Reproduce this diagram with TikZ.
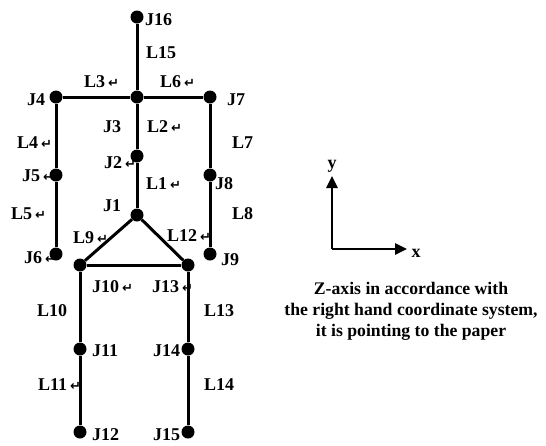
\documentclass[tikz,border=0pt]{standalone}
\usepackage{fontspec}
\setmainfont{Liberation Serif}
\newfontfamily\retfont{DejaVu Sans}
\usetikzlibrary{arrows.meta}

% small return mark after some labels
\newcommand{\retmark}{\,{\retfont\bfseries\fontsize{13}{13}\selectfont ↵}}

\tikzset{
  joint/.style={circle, fill=black, inner sep=0pt, minimum size=13pt},
  bone/.style={line width=3pt},
  lbl/.style={anchor=west, inner sep=0pt, text height=12pt, text depth=0pt,
    font=\fontsize{18}{18}\selectfont\bfseries}
}

\begin{document}
\begin{tikzpicture}[x=1pt, y=-1pt]
\useasboundingbox (0,0) rectangle (546,445);

% joints
\node[joint] (j16) at (137,17) {};
\node[joint] (j3) at (137,97) {};
\node[joint] (j4) at (56,97) {};
\node[joint] (j7) at (210,97) {};
\node[joint] (j2) at (137,156) {};
\node[joint] (j5) at (56,175) {};
\node[joint] (j8) at (210,175) {};
\node[joint] (j1) at (137,215) {};
\node[joint] (j6) at (56,254) {};
\node[joint] (j9) at (210,254) {};
\node[joint] (j10) at (80,265) {};
\node[joint] (j13) at (188,265) {};
\node[joint] (j11) at (80,349) {};
\node[joint] (j14) at (188,349) {};
\node[joint] (j12) at (80,432) {};
\node[joint] (j15) at (188,432) {};

% links
\draw[bone] (j16) -- (j3);
\draw[bone] (j4) -- (j3) -- (j7);
\draw[bone] (j3) -- (j2) -- (j1);
\draw[bone] (j4) -- (j5) -- (j6);
\draw[bone] (j7) -- (j8) -- (j9);
\draw[bone] (j10) -- (j1) -- (j13);
\draw[bone] (j10) -- (j13);
\draw[bone] (j10) -- (j11) -- (j12);
\draw[bone] (j13) -- (j14) -- (j15);

% joint names
\node[lbl] (tj16) at (145,19) {J16};
\node[lbl] (tj4) at (27,99) {J4};
\node[lbl] (tj7) at (227,99) {J7};
\node[lbl] (tj3) at (103,126) {J3};
\node[lbl] (tj2) at (104,162) {J2\retmark};
\node[lbl] (tj5) at (22,175) {J5\retmark};
\node[lbl] (tj8) at (215,183) {J8};
\node[lbl] (tj1) at (103,205) {J1};
\node[lbl] (tj6) at (24,257) {J6\retmark};
\node[lbl] (tj9) at (221,259) {J9};
\node[lbl] (tj10) at (92,286) {J10\retmark};
\node[lbl] (tj13) at (152,286) {J13\retmark};
\node[lbl] (tj11) at (92,350) {J11};
\node[lbl] (tj14) at (153,350) {J14};
\node[lbl] (tj12) at (92,434) {J12};
\node[lbl] (tj15) at (153,434) {J15};

% link names
\node[lbl] (tl15) at (146,52) {L15};
\node[lbl] (tl3) at (84,81) {L3\retmark};
\node[lbl] (tl6) at (160,81) {L6\retmark};
\node[lbl] (tl2) at (147,126) {L2\retmark};
\node[lbl] (tl4) at (17,142) {L4\retmark};
\node[lbl] (tl7) at (232,142) {L7};
\node[lbl] (tl1) at (146,183) {L1\retmark};
\node[lbl] (tl5) at (11,213) {L5\retmark};
\node[lbl] (tl8) at (232,213) {L8};
\node[lbl] (tl9) at (73,237) {L9\retmark};
\node[lbl] (tl12) at (167,235) {L12\retmark};
\node[lbl] (tl10) at (37,310) {L10};
\node[lbl] (tl13) at (204,310) {L13};
\node[lbl] (tl11) at (38,384) {L11\retmark};
\node[lbl] (tl14) at (204,384) {L14};

% axes
\coordinate (o) at (332,249);
\coordinate (ytip) at (332,176);
\coordinate (xtip) at (407,249);
\draw[line width=2.6pt, -{Triangle[length=12pt,width=11pt]}] (o) -- (ytip);
\draw[line width=2.6pt, -{Triangle[length=12pt,width=11pt]}] (o) -- (xtip);
\node[lbl, anchor=center] (ylbl) at (332,162) {y};
\node[lbl, anchor=center, text height=8pt] (xlbl) at (416,253) {x};

\node[align=center, inner sep=0pt, font=\fontsize{17.7}{21}\selectfont\bfseries]
  (note) at (411,311)
  {Z-axis in accordance with\\the right hand coordinate system,\\it is pointing to the paper};
\end{tikzpicture}
\end{document}
